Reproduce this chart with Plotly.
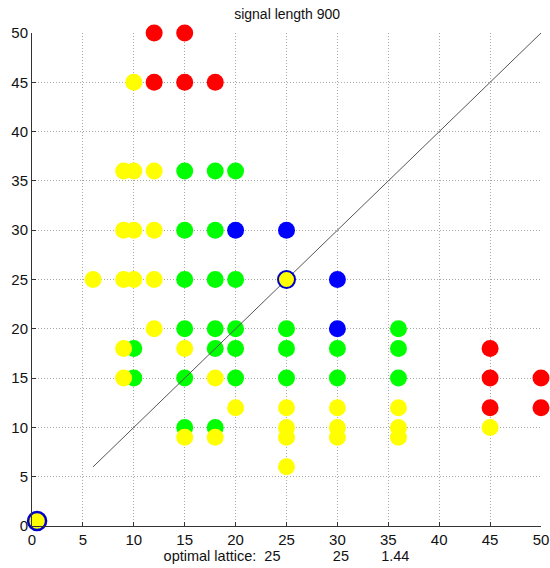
import plotly.graph_objects as go

# lattice candidates (a, b) grouped by outcome class
green_x = [15, 18, 20, 15, 18, 15, 18, 20, 15, 18, 20, 10, 18, 20, 10, 15, 20, 15, 18,
           25, 25, 25, 30, 30, 36, 36, 36]
green_y = [36, 36, 36, 30, 30, 25, 25, 25, 20, 20, 20, 18, 18, 18, 15, 15, 15, 10, 10,
           20, 18, 15, 18, 15, 20, 18, 15]

yellow_x = [10, 9, 10, 12, 9, 10, 12, 6, 9, 10, 12, 12, 9, 9, 15, 18, 20, 15, 18,
            25, 25, 25, 25, 30, 30, 30, 36, 36, 36, 45]
yellow_y = [45, 36, 36, 36, 30, 30, 30, 25, 25, 25, 25, 20, 18, 15, 18, 15, 12, 9, 9,
            12, 10, 9, 6, 12, 10, 9, 12, 10, 9, 10]

red_x = [12, 15, 12, 15, 18, 45, 45, 45, 50, 50]
red_y = [50, 50, 45, 45, 45, 18, 15, 12, 15, 12]

blue_x = [20, 25, 30, 30]
blue_y = [30, 30, 25, 20]

# diagonal reference a = b
diag_x = [6, 50]
diag_y = [6, 50]

# optimal lattice and origin marker
opt_x = [25]
opt_y = [25]
origin_x = [0.5]
origin_y = [0.5]

title_text = "signal length 900"
xlabel_parts = ["optimal lattice:", "25", "25", "1.44"]
ticks = [0, 5, 10, 15, 20, 25, 30, 35, 40, 45, 50]

FONT = "Liberation Sans, Arial"

fig = go.Figure()

def dots(x, y, color):
    fig.add_trace(go.Scatter(x=x, y=y, mode="markers", cliponaxis=False,
                             marker=dict(size=17, color=color, line=dict(width=0)),
                             showlegend=False, hoverinfo="x+y"))

dots(green_x, green_y, "#00FF00")
dots(yellow_x, yellow_y, "#FFFF00")
dots(red_x, red_y, "#FF0000")
dots(blue_x, blue_y, "#0000FF")

fig.add_trace(go.Scatter(x=diag_x, y=diag_y, mode="lines", cliponaxis=False,
                         line=dict(color="#555555", width=1), showlegend=False))

fig.add_trace(go.Scatter(x=opt_x, y=opt_y, mode="markers", cliponaxis=False,
                         marker=dict(size=17, color="#FFFF00",
                                     line=dict(color="#0000C8", width=2)),
                         showlegend=False))
fig.add_trace(go.Scatter(x=origin_x, y=origin_y, mode="markers", cliponaxis=False,
                         marker=dict(size=18, color="#FFFF00",
                                     line=dict(color="#0000C8", width=2.5)),
                         showlegend=False))

sp = "&nbsp;"
xlabel = (xlabel_parts[0] + sp * 2 + xlabel_parts[1] + sp * 13 + xlabel_parts[2]
          + sp * 8 + xlabel_parts[3])

axis_common = dict(range=[0, 50], tickvals=ticks, showgrid=True, automargin=False,
                   gridcolor="#A8A8A8", griddash="1px,2px", gridwidth=1,
                   zeroline=False, showline=True, linecolor="#333333", linewidth=1,
                   ticks="inside", ticklen=4, tickcolor="#333333",
                   tickfont=dict(family=FONT, size=15, color="#111111"),
                   fixedrange=True)

fig.update_layout(
    width=550, height=568,
    margin=dict(l=32, r=9, t=33, b=42, autoexpand=False),
    paper_bgcolor="white", plot_bgcolor="white",
    title=dict(text=title_text, x=0.522, xanchor="center", y=0.975, yanchor="middle",
               font=dict(family=FONT, size=14, color="#111111")),
    xaxis=dict(**axis_common,
               title=dict(text=xlabel, standoff=2,
                          font=dict(family=FONT, size=14.5, color="#111111"))),
    yaxis=dict(**axis_common),
)

fig.write_html("out.html")
